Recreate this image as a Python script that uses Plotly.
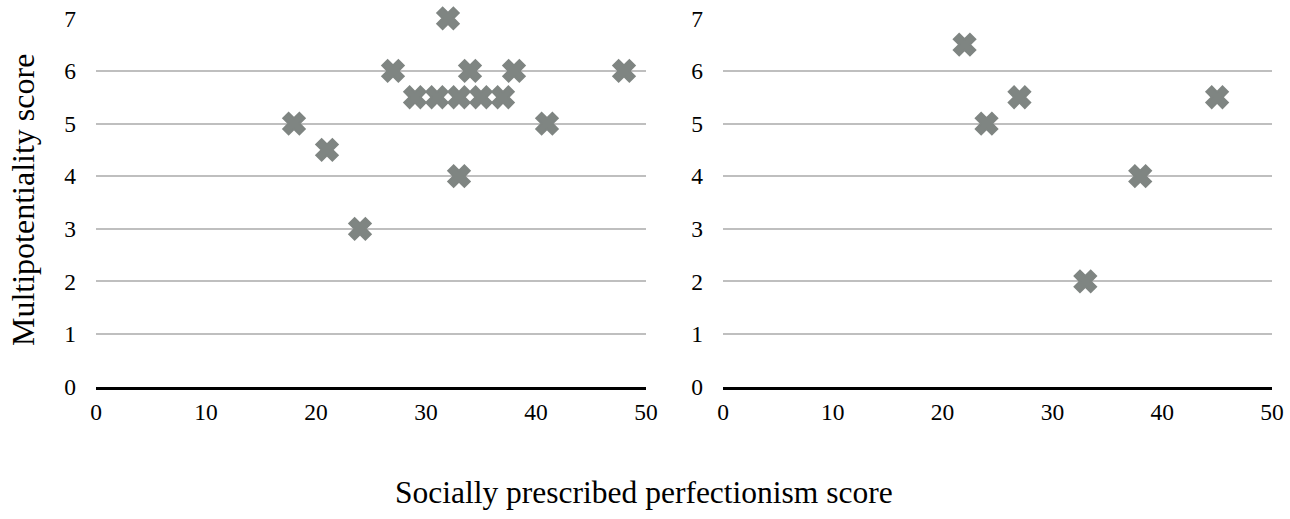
import plotly.graph_objects as go

# Group 1 scores
left_x = [18, 21, 24, 27, 29, 31, 32, 33, 33, 34, 35, 37, 38, 41, 48]
left_y = [5, 4.5, 3, 6, 5.5, 5.5, 7, 5.5, 4, 6, 5.5, 5.5, 6, 5, 6]

# Group 2 scores
right_x = [22, 24, 27, 33, 38, 45]
right_y = [6.5, 5, 5.5, 2, 4, 5.5]

x_ticks = [0, 10, 20, 30, 40, 50]
y_ticks = [0, 1, 2, 3, 4, 5, 6, 7]

x_title = "Socially prescribed perfectionism score"
y_title = "Multipotentiality score"

W, H = 1290, 519
FONT = "Liberation Serif, Times New Roman, serif"
MARK = "#7f8582"

marker = dict(symbol="x", size=19, color=MARK, line=dict(color=MARK, width=2))

fig = go.Figure()
fig.add_trace(go.Scatter(x=left_x, y=left_y, mode="markers", marker=marker,
                         cliponaxis=False, xaxis="x", yaxis="y", showlegend=False))
fig.add_trace(go.Scatter(x=right_x, y=right_y, mode="markers", marker=marker,
                         cliponaxis=False, xaxis="x2", yaxis="y2", showlegend=False))

y_dom = [(H - 386.7) / H, (H - 18.3) / H]

xa = dict(range=[0, 50], tickvals=x_ticks, showgrid=False, zeroline=False,
          showline=True, linecolor="black", linewidth=2.5, ticks="",
          automargin=False,
          tickfont=dict(family=FONT, size=23.5, color="black"), ticklabelstandoff=2)
ya = dict(range=[0, 7], tickvals=y_ticks, showgrid=True, gridcolor="#bfbfbf",
          gridwidth=2.2, zeroline=False, showline=False, ticks="",
          automargin=False,
          tickfont=dict(family=FONT, size=23.5, color="black"), ticklabelstandoff=19)

fig.update_layout(
    width=W, height=H,
    margin=dict(l=0, r=0, t=0, b=0, autoexpand=False),
    paper_bgcolor="white", plot_bgcolor="white",
    xaxis=dict(xa, domain=[96 / W, 646 / W], anchor="y"),
    yaxis=dict(ya, domain=y_dom, anchor="x"),
    xaxis2=dict(xa, domain=[723 / W, 1272 / W], anchor="y2"),
    yaxis2=dict(ya, domain=y_dom, anchor="x2"),
    annotations=[
        dict(text=x_title, xref="paper", yref="paper", x=644 / W, y=(H - 492) / H,
             showarrow=False, font=dict(family=FONT, size=31.5, color="black"),
             xanchor="center", yanchor="middle"),
        dict(text=y_title, xref="paper", yref="paper", x=23 / W, y=(H - 200) / H,
             showarrow=False, textangle=-90,
             font=dict(family=FONT, size=32, color="black"),
             xanchor="center", yanchor="middle"),
    ],
)

fig.write_html("out.html")
